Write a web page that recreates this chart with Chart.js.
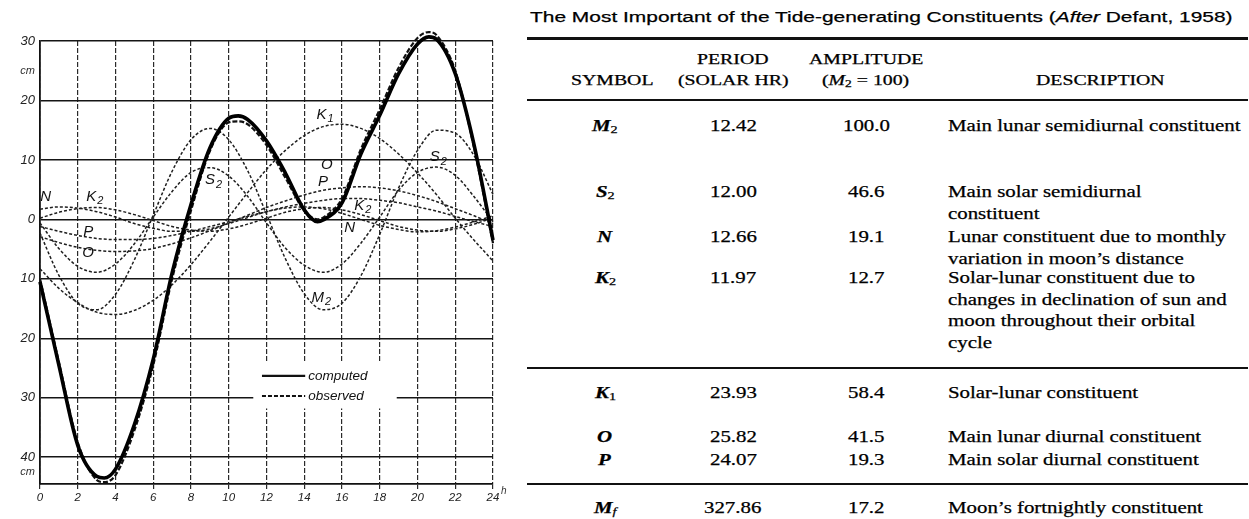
<!DOCTYPE html>
<html><head><meta charset="utf-8">
<script src="https://cdn.jsdelivr.net/npm/chart.js@4.4.1/dist/chart.umd.min.js"></script>
<style>
html,body{margin:0;padding:0;background:#fff;}
body{width:1249px;height:519px;position:relative;overflow:hidden;}
#chartWrap{position:absolute;left:0;top:0;width:515px;height:519px;}
.t{position:absolute;white-space:nowrap;color:#000;line-height:1;-webkit-text-stroke:0.25px #000;}
.t sub{font-size:0.68em;vertical-align:-0.22em;line-height:0;}
.rule{position:absolute;left:527px;width:721px;background:#111;}
</style></head><body>
<div id="chartWrap"><canvas id="c"></canvas></div>
<div class="rule" style="top:37px;height:3px"></div>
<div class="rule" style="top:99px;height:2px"></div>
<div class="rule" style="top:367px;height:2px"></div>
<div class="rule" style="top:483px;height:2px"></div>
<script>
// ---------- chart data ----------
const hours = [0,1,2,3,4,5,6,7,8,9,10,11,12,13,14,15,16,17,18,19,20,21,22,23,24];
const M2 = [-2.3,-9.4,-14.1,-15.2,-12.6,-6.8,0.7,8.1,13.4,15.3,13.4,8.2,0.9,-6.6,-12.5,-15.2,-14.1,-9.5,-2.5,5.3,11.6,15.0,14.5,10.7,4.2];
const S2 = [-0.6,-4.9,-7.9,-8.9,-7.5,-4.1,0.4,4.7,7.9,8.7,7.3,3.9,-0.6,-4.8,-7.7,-8.9,-7.5,-4.0,0.4,4.9,7.9,8.8,7.4,3.8,-0.4];
const K1 = [-8.3,-11.6,-14.0,-15.6,-16.0,-15.3,-13.6,-11.0,-7.6,-3.7,0.4,4.5,8.4,11.6,14.1,15.6,16.0,15.3,13.6,11.0,7.8,4.2,0.2,-3.5,-7.0];
const O1 = [-2.9,-3.9,-4.7,-5.2,-5.4,-5.3,-4.9,-4.1,-3.1,-1.9,-0.6,0.7,2.0,3.1,4.1,4.9,5.3,5.5,5.3,4.8,4.0,3.0,1.8,0.6,-0.7];
const P1 = [-1.2,-2.0,-2.7,-3.2,-3.4,-3.4,-3.2,-2.7,-2.0,-1.2,-0.4,0.5,1.3,2.1,2.7,3.2,3.5,3.5,3.2,2.8,2.1,1.4,0.5,-0.4,-1.2];
const N2 = [1.7,2.1,1.9,1.3,0.4,-0.7,-1.5,-2.0,-2.0,-1.6,-0.7,0.3,1.3,1.9,2.1,1.8,1.0,0.0,-1.0,-1.7,-2.1,-1.9,-1.3,-0.4,0.6];
const K2 = [0.2,1.2,1.8,2.0,1.6,0.8,-0.2,-1.2,-1.8,-2.0,-1.6,-0.8,0.2,1.2,1.8,2.0,1.6,0.8,-0.2,-1.2,-1.8,-2.0,-1.6,-0.8,0.3];
const sumHours = [0,1,2,3,3.4,4,5,6,7,8,9,10,10.5,11,12,13,14,14.7,15,16,17,18,19,20,20.6,21,22,23,24];
const computed = [-10.5,-24.5,-38,-43.2,-43.5,-42,-34.5,-23.5,-9,2.5,12,17,17.4,16.8,13.2,7.8,1.6,-0.4,-0.1,2.8,11,17.5,24.5,29.5,30.7,30.3,24.5,12.5,-3.5];
const observed = [-10,-24,-37.5,-43.8,-44.2,-43,-35.5,-24.5,-10,1.5,11.5,16.3,16.5,16,12.5,7,1.5,0,0.3,3.5,11.8,18.5,25.5,30.5,31.5,31,25,12,-4];
const xTicks = [0,2,4,6,8,10,12,14,16,18,20,22,24];
const yTicks = [-40,-30,-20,-10,0,10,20,30];
// curve labels: [main, subscript]
const labelMain = ['N','K','P','O','S','K','O','P','K','N','S','M'];
const labelSub  = ['','2','','','2','1','','','2','','2','2'];
const labelHour = [0.3,2.9,2.55,2.55,9.2,15.1,15.2,15.0,17.1,16.4,21.1,14.9];
const labelCm   = [3.8,3.8,-2.1,-5.6,6.6,17.6,9.2,6.3,2.3,-1.4,10.5,-13.2];
const legendNames = ['computed','observed'];

// ---------- table data ----------
const symMain = ['M','S','N','K','K','O','P','M'];
const symSub  = ['2','2','','2','1','','','f'];
const periods = ['12.42','12.00','12.66','11.97','23.93','25.82','24.07','327.86'];
const amplitudes = ['100.0','46.6','19.1','12.7','58.4','41.5','19.3','17.2'];
const descriptions = [
  ['Main lunar semidiurnal constituent'],
  ['Main solar semidiurnal','constituent'],
  ['Lunar constituent due to monthly','variation in moon\u2019s distance'],
  ['Solar-lunar constituent due to','changes in declination of sun and','moon throughout their orbital','cycle'],
  ['Solar-lunar constituent'],
  ['Main lunar diurnal constituent'],
  ['Main solar diurnal constituent'],
  ['Moon\u2019s fortnightly constituent']
];

// ---------- chart ----------
const pts = (xs, ys) => xs.map((x, i) => ({x: x, y: ys[i]}));
const thin = {borderColor:'#1e1e1e', borderWidth:1.5, borderDash:[3,2], order:3, clip:false};
const datasets = [
  Object.assign({label:'M2', data:pts(hours, M2)}, thin),
  Object.assign({label:'S2', data:pts(hours, S2)}, thin),
  Object.assign({label:'K1', data:pts(hours, K1)}, thin),
  Object.assign({label:'O', data:pts(hours, O1)}, thin),
  Object.assign({label:'P', data:pts(hours, P1)}, thin),
  Object.assign({label:'N', data:pts(hours, N2)}, thin),
  Object.assign({label:'K2', data:pts(hours, K2)}, thin),
  {label:'observed', data:pts(sumHours, observed), borderColor:'#111', borderWidth:2.2, borderDash:[5,2], order:1, clip:false},
  {label:'computed', data:pts(sumHours, computed), borderColor:'#000', borderWidth:3.6, order:0, clip:false}
];

function drawSubLabel(ctx, main, sub, cx, cy, size) {
  ctx.font = 'italic ' + size + 'px "Liberation Sans", Arial, sans-serif';
  const w1 = ctx.measureText(main).width;
  ctx.font = 'italic ' + Math.round(size * 0.72) + 'px "Liberation Sans", Arial, sans-serif';
  const w2 = sub ? ctx.measureText(sub).width + 1 : 0;
  const x0 = cx - (w1 + w2) / 2;
  ctx.textAlign = 'left'; ctx.textBaseline = 'middle';
  ctx.font = 'italic ' + size + 'px "Liberation Sans", Arial, sans-serif';
  ctx.fillText(main, x0, cy);
  if (sub) {
    ctx.font = 'italic ' + Math.round(size * 0.72) + 'px "Liberation Sans", Arial, sans-serif';
    ctx.fillText(sub, x0 + w1 + 1, cy + size * 0.3);
  }
}

const annot = {
  id: 'annot',
  beforeDatasetsDraw(chart) {
    const {ctx, scales: {x, y}} = chart;
    ctx.save();
    const bx0 = x.getPixelForValue(11.3), bx1 = x.getPixelForValue(18.9);
    const by0 = y.getPixelForValue(-24), by1 = y.getPixelForValue(-31.8);
    ctx.fillStyle = '#fff';
    ctx.fillRect(bx0, by0, bx1 - bx0, by1 - by0);
    const lx0 = x.getPixelForValue(11.76), lx1 = x.getPixelForValue(14.05);
    const ly = [y.getPixelForValue(-26.3), y.getPixelForValue(-29.7)];
    ctx.strokeStyle = '#111';
    ctx.lineWidth = 2.2; ctx.setLineDash([]);
    ctx.beginPath(); ctx.moveTo(lx0, ly[0]); ctx.lineTo(lx1, ly[0]); ctx.stroke();
    ctx.lineWidth = 1.8; ctx.setLineDash([4, 2]);
    ctx.beginPath(); ctx.moveTo(lx0, ly[1]); ctx.lineTo(lx1, ly[1]); ctx.stroke();
    ctx.setLineDash([]);
    ctx.fillStyle = '#111';
    ctx.font = 'italic 13.5px "Liberation Sans", Arial, sans-serif';
    ctx.textAlign = 'left'; ctx.textBaseline = 'middle';
    ctx.fillText(legendNames[0], lx1 + 3, ly[0]);
    ctx.fillText(legendNames[1], lx1 + 3, ly[1]);
    ctx.restore();
  },
  afterDraw(chart) {
    const {ctx, scales: {x, y}} = chart;
    ctx.save();
    ctx.fillStyle = '#111';
    for (let i = 0; i < labelMain.length; i++) {
      drawSubLabel(ctx, labelMain[i], labelSub[i], x.getPixelForValue(labelHour[i]), y.getPixelForValue(labelCm[i]), 15);
    }
    ctx.fillStyle = '#333';
    ctx.font = 'italic 11px "Liberation Sans", Arial, sans-serif';
    ctx.textAlign = 'right'; ctx.textBaseline = 'middle';
    ctx.fillText('cm', x.left - 5, y.getPixelForValue(25));
    ctx.fillText('cm', x.left - 5, y.getPixelForValue(-42.5));
    ctx.textAlign = 'left';
    ctx.font = 'italic 10px "Liberation Sans", Arial, sans-serif';
    ctx.fillText('h', x.getPixelForValue(24) + 8, y.bottom + 7);
    ctx.restore();
  }
};

new Chart(document.getElementById('c'), {
  type: 'line',
  data: {datasets: datasets},
  options: {
    responsive: true, maintainAspectRatio: false, animation: false,
    layout: {padding: {top: 41, right: 22, left: 0, bottom: 0}},
    plugins: {legend: {display: false}, tooltip: {enabled: false}},
    elements: {point: {radius: 0}, line: {cubicInterpolationMode: 'monotone'}},
    scales: {
      x: {
        type: 'linear', min: 0, max: 24,
        afterBuildTicks: s => { s.ticks = xTicks.map(v => ({value: v})); },
        afterFit: s => { s.height = 35; },
        grid: {color: '#2a2a2a', lineWidth: 1.2, drawTicks: true, tickLength: 5},
        border: {display: true, color: '#111', width: 1.8, dash: [5, 2]},
        ticks: {padding: 2, color: '#222', maxRotation: 0, autoSkip: false,
          font: {family: '"Liberation Sans", Arial, sans-serif', style: 'italic', size: 11.5},
          callback: v => String(v)}
      },
      y: {
        type: 'linear', min: -44.5, max: 30,
        afterBuildTicks: s => { s.ticks = yTicks.map(v => ({value: v})); },
        afterFit: s => { s.width = 40; },
        grid: {color: '#151515', lineWidth: 1.5, drawTicks: false},
        border: {display: true, color: '#111', width: 1.8},
        ticks: {padding: 5, color: '#222',
          font: {family: '"Liberation Sans", Arial, sans-serif', style: 'italic', size: 13},
          callback: v => String(Math.abs(v))}
      }
    }
  },
  plugins: [annot]
});

// ---------- table ----------
function txt(html, font) {
  const d = document.createElement('div');
  d.className = 't'; d.style.font = font; d.innerHTML = html;
  document.body.appendChild(d); return d;
}
function place(d, x, y, align, sx) {
  const w = d.offsetWidth, h = d.offsetHeight;
  d.style.transformOrigin = '0 50%';
  d.style.transform = 'scaleX(' + sx + ')';
  d.style.left = (align === 'c' ? x - w * sx / 2 : x) + 'px';
  d.style.top = (y - h / 2) + 'px';
}
function buildTable() {
  const serif = '"Liberation Serif", "Times New Roman", serif';
  const sans = '"Liberation Sans", Arial, sans-serif';
  const rowFont = '16px ' + serif;
  const headFont = '14px ' + serif;
  const title = txt('The Most Important of the Tide-generating Constituents (<i>After</i> Defant, 1958)', '15.5px ' + sans);
  place(title, 881, 17, 'c', 702 / title.offsetWidth);
  const sym = txt('SYMBOL', headFont);
  const sxH = 82 / sym.offsetWidth;
  place(sym, 612, 81, 'c', sxH);
  place(txt('PERIOD', headFont), 733, 60, 'c', sxH);
  place(txt('(SOLAR HR)', headFont), 733, 81, 'c', sxH);
  place(txt('AMPLITUDE', headFont), 866, 60, 'c', sxH);
  place(txt('(<i>M</i><sub>2</sub> = 100)', headFont), 866, 81, 'c', sxH);
  place(txt('DESCRIPTION', headFont), 1100, 81, 'c', sxH);
  const probe = txt(descriptions[0][0], rowFont);
  const sxR = 292 / probe.offsetWidth;
  probe.remove();
  const rowY = [126, 192, 237, 278, 393, 437, 460, 508];
  const gap = 21.5;
  for (let i = 0; i < symMain.length; i++) {
    const y = rowY[i];
    const s = txt('<i style="font-weight:bold">' + symMain[i] + '</i>' + (symSub[i] ? '<sub' + (symSub[i] === 'f' ? ' style="font-style:italic"' : '') + '>' + symSub[i] + '</sub>' : ''), rowFont);
    place(s, 605, y, 'c', sxR);
    place(txt(periods[i], rowFont), 733, y, 'c', sxR);
    place(txt(amplitudes[i], rowFont), 866, y, 'c', sxR);
    descriptions[i].forEach((line, k) => {
      place(txt(line, rowFont), 948, y + k * gap, 'l', sxR);
    });
  }
}
if (document.fonts && document.fonts.ready) { document.fonts.ready.then(buildTable); } else { buildTable(); }
</script>
</body></html>
